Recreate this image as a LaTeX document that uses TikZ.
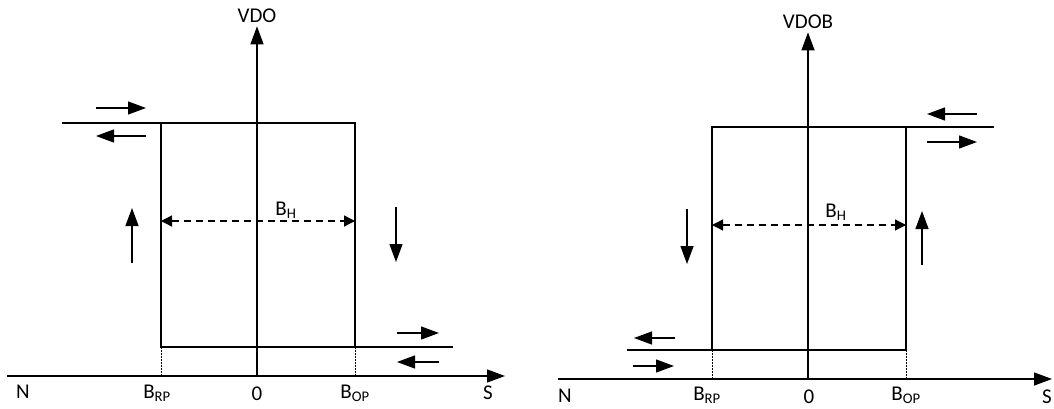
\documentclass[tikz,border=0pt]{standalone}
\usepackage{fontspec}
\setmainfont{Carlito}
\usepackage{tikz}
\usetikzlibrary{arrows.meta,positioning,calc}
\tikzstyle{curve} = [line width=1.3pt]
\tikzstyle{axis} = [line width=1.3pt, ->]
\tikzstyle{hint} = [line width=1.3pt, ->]
\tikzstyle{proj} = [line width=0.9pt, dash pattern=on 1.5pt off 1.5pt]
\tikzstyle{span} = [line width=1.3pt, dash pattern=on 7pt off 5pt, {Triangle[length=11pt,width=11pt]}-{Triangle[length=11pt,width=11pt]}]
\tikzstyle{lbl} = [inner sep=0pt, anchor=base, font=\fontsize{21pt}{25pt}\selectfont]

\begin{document}
\begin{tikzpicture}[x=1pt, y=-1pt, >={Triangle[length=18pt,width=13pt]}]
    \useasboundingbox (0,0) rectangle (1054,409);

    % VDO
    \coordinate (o1) at (257,376);
    \coordinate (n1) at (7,376);
    \coordinate (s1) at (505,376);
    \node[lbl] (vdo) at (257,23) {VDO};
    \coordinate (rpT1) at (161,123);
    \coordinate (rpB1) at (161,347);
    \coordinate (opT1) at (355,123);
    \coordinate (opB1) at (355,347);
    \coordinate (rp1) at (161,376);
    \coordinate (op1) at (355,376);

    \draw[axis] (n1) -- (s1);
    \draw[axis] (o1) -- ($(vdo.south)+(0,3)$);
    \draw[curve] (62,123) -- (opT1) -- (opB1);
    \draw[curve] (rpT1) -- (rpB1) -- (453,347);
    \draw[proj] (rpB1) -- (rp1);
    \draw[proj] (opB1) -- (op1);
    \draw[span] (161,221) -- (355,221);
    \node[lbl] (bh1) at (286,215) {B\textsubscript{H}};

    \draw[hint] (96,108) -- (146,108);
    \draw[hint] (146,136) -- (96,136);
    \draw[hint] (132,263) -- (132,208);
    \draw[hint] (396,207) -- (396,262);
    \draw[hint] (397,333) -- (439,333);
    \draw[hint] (439,362) -- (397,362);

    \node[lbl] (nl1) at (23,398) {N};
    \node[lbl] (brp1) at (157,398) {B\textsubscript{RP}};
    \node[lbl] (z1) at (257,400) {0};
    \node[lbl] (bop1) at (355,398) {B\textsubscript{OP}};
    \node[lbl] (sl1) at (488,399) {S};

    % VDOB
    \coordinate (o2) at (808,379);
    \coordinate (n2) at (558,379);
    \coordinate (s2) at (1052,379);
    \node[lbl] (vdob) at (808,29) {VDOB};
    \coordinate (rpT2) at (712,127);
    \coordinate (rpB2) at (712,350);
    \coordinate (opT2) at (906,127);
    \coordinate (opB2) at (906,350);
    \coordinate (rp2) at (712,379);
    \coordinate (op2) at (906,379);

    \draw[axis] (n2) -- (s2);
    \draw[axis] (o2) -- ($(vdob.south)+(0,3)$);
    \draw[curve] (627,350) -- (opB2) -- (opT2);
    \draw[curve] (rpB2) -- (rpT2) -- (994,127);
    \draw[proj] (rpB2) -- (rp2);
    \draw[proj] (opB2) -- (op2);
    \draw[span] (712,225) -- (906,225);
    \node[lbl] (bh2) at (836,217) {B\textsubscript{H}};

    \draw[hint] (977,114) -- (927,114);
    \draw[hint] (927,142) -- (977,142);
    \draw[hint] (687,209) -- (687,264);
    \draw[hint] (922,265) -- (922,211);
    \draw[hint] (675,338) -- (634,338);
    \draw[hint] (633,366) -- (674,366);

    \node[lbl] (nl2) at (565,402) {N};
    \node[lbl] (brp2) at (707,400) {B\textsubscript{RP}};
    \node[lbl] (z2) at (809,403) {0};
    \node[lbl] (bop2) at (906,400) {B\textsubscript{OP}};
    \node[lbl] (sl2) at (1047,403) {S};
\end{tikzpicture}
\end{document}
